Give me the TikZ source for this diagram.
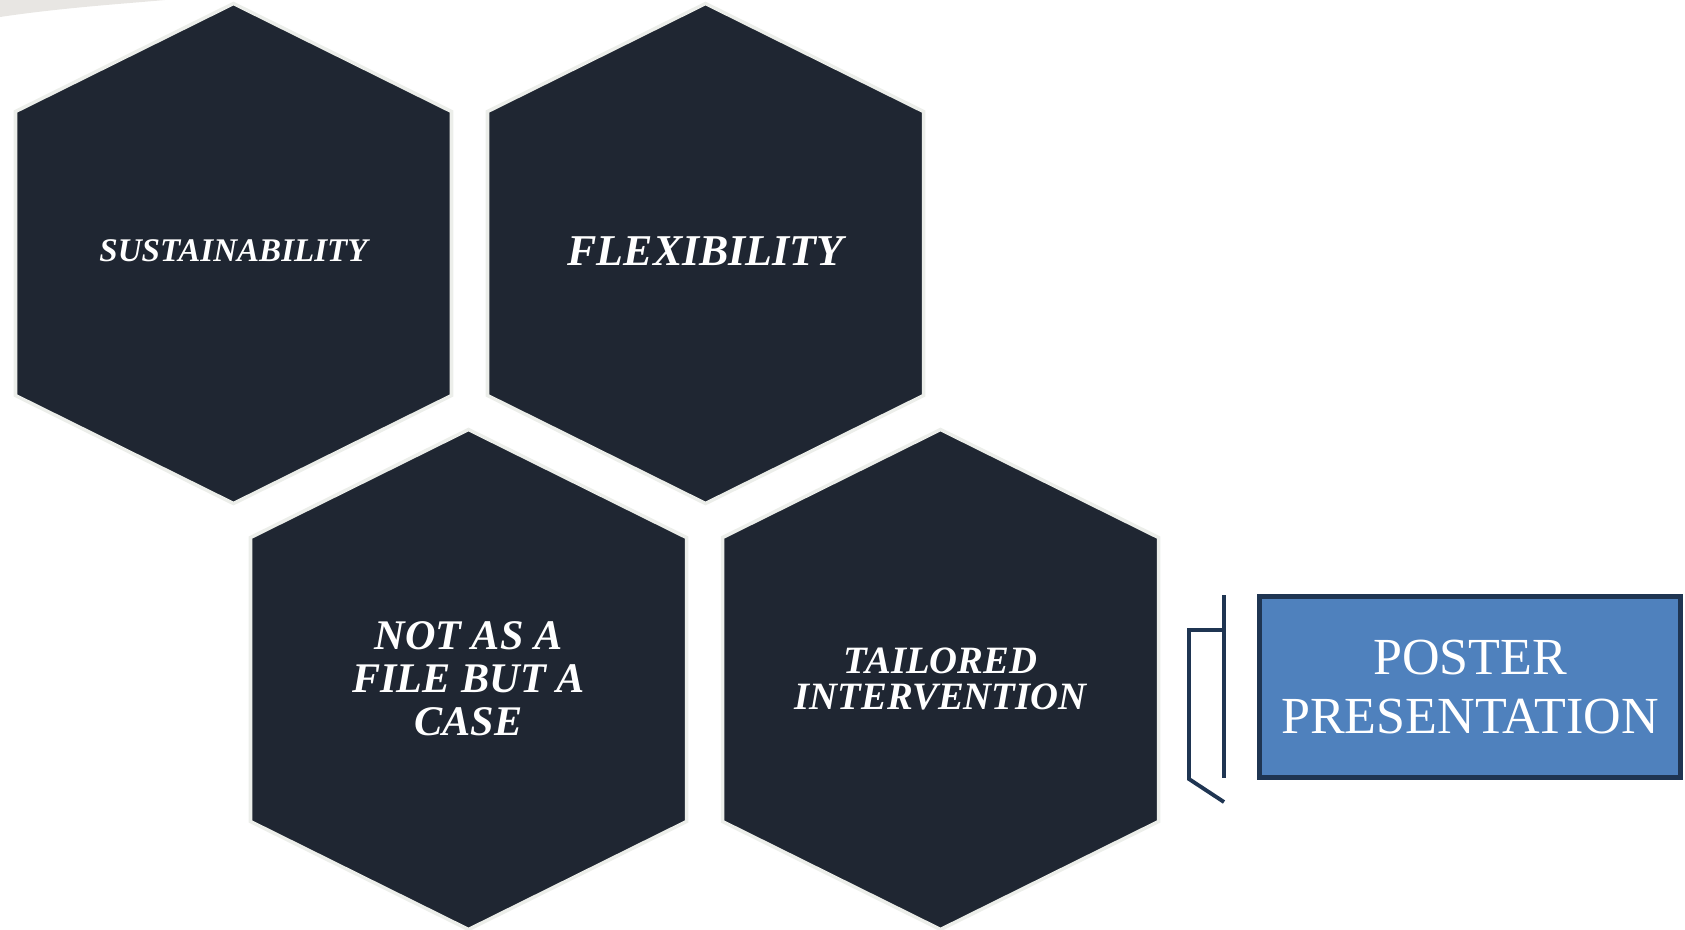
\documentclass[tikz,border=0pt]{standalone}
\usepackage{fontspec}
\setmainfont{Liberation Serif}

\definecolor{hexfill}{RGB}{31,38,50}
\definecolor{hexedge}{RGB}{236,238,234}
\definecolor{posterblue}{RGB}{79,129,189}
\definecolor{navy}{RGB}{31,53,82}
\definecolor{smudge}{RGB}{232,230,227}

\tikzset{
  hexcell/.style={fill=hexfill, draw=hexedge, line width=1pt, line join=miter},
  hexlabel/.style={text=white, align=center},
  bracketline/.style={navy, line width=1.1pt},
}

\begin{document}
\begin{tikzpicture}[x=0.01cm, y=-0.01cm]
    \useasboundingbox (0,0) rectangle (1685,929);

    % Smudge top left
    \fill[smudge] (0,0) -- (165,0) .. controls (120,4) and (60,8) .. (0,17) -- cycle;

    % Top row
    \filldraw[hexcell, shift={(233.5,253.5)}] (0,-250) -- (218,-142) -- (218,142) -- (0,250) -- (-218,142) -- (-218,-142) -- cycle;
    \node[hexlabel, font=\fontsize{9.4}{11}\selectfont\bfseries\itshape] (sustain) at (233.5,251) {SUSTAINABILITY};

    \filldraw[hexcell, shift={(705.5,253.5)}] (0,-250) -- (218,-142) -- (218,142) -- (0,250) -- (-218,142) -- (-218,-142) -- cycle;
    \node[hexlabel, font=\fontsize{12.5}{14}\selectfont\bfseries\itshape] (flex) at (705.5,251) {FLEXIBILITY};

    % Bottom row
    \filldraw[hexcell, shift={(468.5,679.5)}] (0,-250) -- (218,-142) -- (218,142) -- (0,250) -- (-218,142) -- (-218,-142) -- cycle;
    \node[hexlabel, font=\fontsize{12}{12.2}\selectfont\bfseries\itshape] (notfile) at (468.5,679) {NOT AS A\\FILE BUT A\\CASE};

    \filldraw[hexcell, shift={(940.5,679.5)}] (0,-250) -- (218,-142) -- (218,142) -- (0,250) -- (-218,142) -- (-218,-142) -- cycle;
    \node[hexlabel, font=\fontsize{11}{10}\selectfont\bfseries\itshape] (tailored) at (940.5,679) {TAILORED\\INTERVENTION};

    % Poster box
    \node[draw=navy, line width=1.4pt, fill=posterblue, minimum width=4.2cm, minimum height=1.81cm,
          text=white, align=center, font=\fontsize{14.8}{16.5}\selectfont] (poster) at (1470,687) {POSTER\\PRESENTATION};

    % Bracket
    \draw[bracketline] (1224,595) -- (1224,778);
    \draw[bracketline] (1224,630) -- (1189,630) -- (1189,779) -- (1224,802);
\end{tikzpicture}
\end{document}
